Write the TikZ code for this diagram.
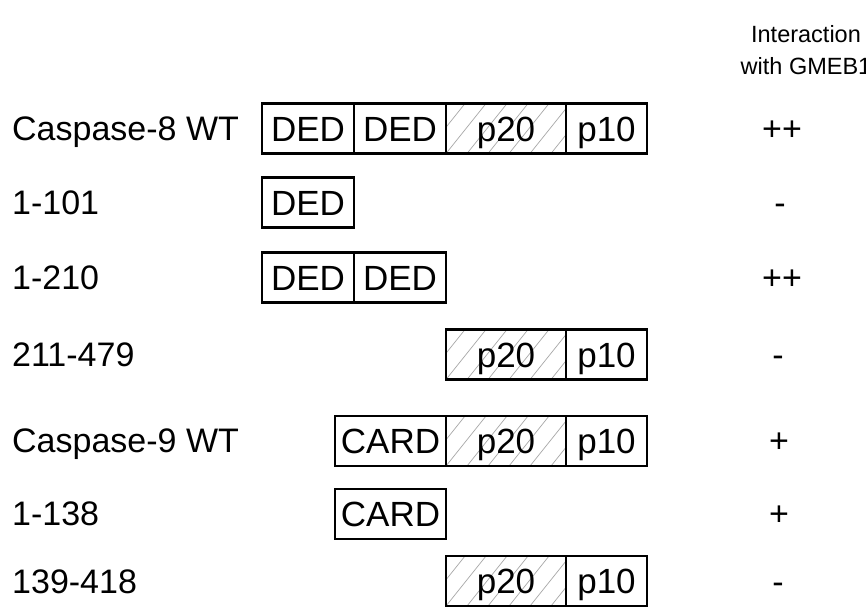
\documentclass[tikz,border=0pt]{standalone}
\usepackage{fontspec}
\setmainfont{Liberation Sans}
\begin{document}
\begin{tikzpicture}[x=1pt,y=-1pt,
  txt/.style={font=\fontsize{34}{40}\selectfont, inner sep=0pt},
  hdr/.style={font=\fontsize{23.5}{32}\selectfont, inner sep=0pt, align=center},
  dom/.style={draw=black, line width=2.4pt, inner sep=0pt, minimum height=50pt,
    font=\fontsize{35}{40}\selectfont, text height=25pt, text depth=0pt},
  ded/.style={dom, minimum width=92pt},
  card/.style={dom, minimum width=111pt},
  pten/.style={dom, minimum width=81pt},
  ptwenty/.style={dom, minimum width=120pt,
    path picture={
      \foreach \i in {-3,...,6}
        \draw[gray!70, line width=0.7pt]
          ([xshift=\i*21pt]path picture bounding box.south west) -- ++(40pt,50pt);
    }},
  lbl/.style={txt, anchor=base west},
  res/.style={txt, anchor=base}
]
\useasboundingbox (0,0) rectangle (866,606);

% column header
\node[hdr] (head) at (806,50) {Interaction\\with GMEB1};

% Caspase-8 WT
\node[lbl] (l1) at (12,140) {Caspase-8 WT};
\node[ded] (a1) at (308,128.5) {DED};
\node[ded] (a2) at (400,128.5) {DED};
\node[ptwenty] (a3) at (506,128.5) {p20};
\node[pten] (a4) at (606.5,128.5) {p10};
\node[res] (r1) at (782,140) {++};

% 1-101
\node[lbl] (l2) at (12,214) {1-101};
\node[ded] (b1) at (308,202.5) {DED};
\node[res] (r2) at (780,214) {-};

% 1-210
\node[lbl] (l3) at (12,289) {1-210};
\node[ded] (c1) at (308,277.5) {DED};
\node[ded] (c2) at (400,277.5) {DED};
\node[res] (r3) at (782,289) {++};

% 211-479
\node[lbl] (l4) at (12,366) {211-479};
\node[ptwenty] (d1) at (506,354.5) {p20};
\node[pten] (d2) at (606.5,354.5) {p10};
\node[res] (r4) at (778,366) {-};

% Caspase-9 WT
\node[lbl] (l5) at (12,452) {Caspase-9 WT};
\node[card] (e1) at (390.5,441) {CARD};
\node[ptwenty] (e2) at (506,441) {p20};
\node[pten] (e3) at (606.5,441) {p10};
\node[res] (r5) at (779,452) {+};

% 1-138
\node[lbl] (l6) at (12,525) {1-138};
\node[card] (f1) at (390.5,514) {CARD};
\node[res] (r6) at (779,525) {+};

% 139-418
\node[lbl] (l7) at (12,593) {139-418};
\node[ptwenty] (g1) at (506,581) {p20};
\node[pten] (g2) at (606.5,581) {p10};
\node[res] (r7) at (778,593) {-};
\end{tikzpicture}
\end{document}
